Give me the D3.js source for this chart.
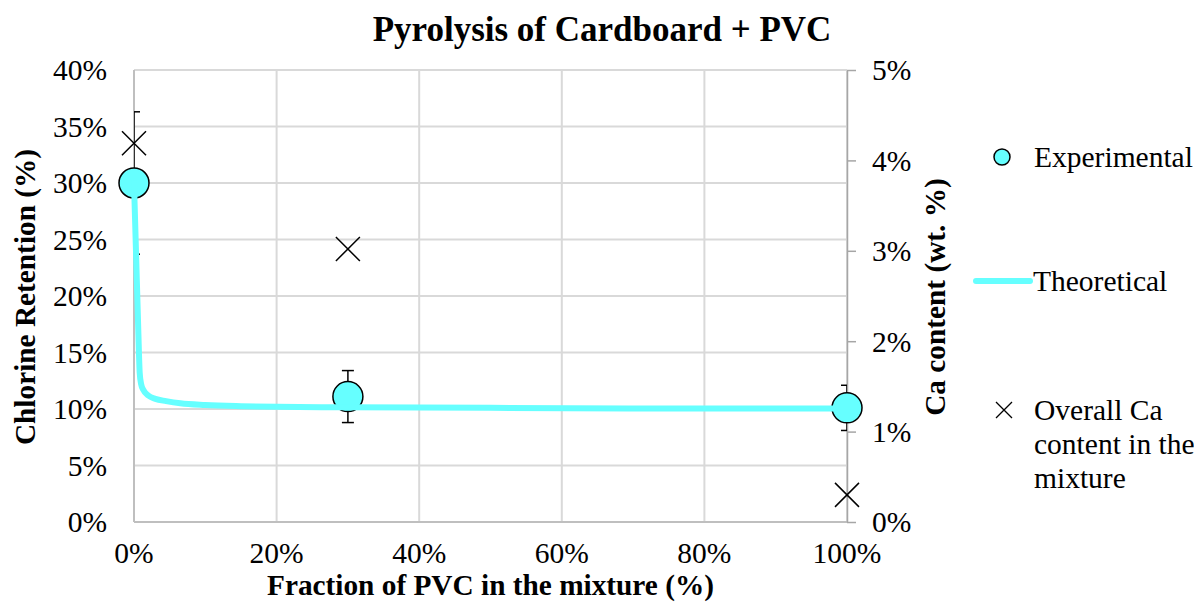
<!DOCTYPE html>
<html>
<head>
<meta charset="utf-8">
<script src="https://cdn.jsdelivr.net/npm/d3@7"></script>
<style>
  body { margin: 0; background: #fff; }
  text { font-family: "Liberation Serif", "Times New Roman", serif; fill: #000; }
</style>
</head>
<body>
<div id="chart"></div>
<script>
// chart values (percent)
var expX = [0, 30, 100];
var expY = [30, 11.1, 10.1];
var expErr = [6.3, 2.3, 2.0];

var theoX = [0, 0.3, 0.6, 0.8, 1.0, 1.3, 2, 3, 4.5, 6.5, 10, 15, 20, 30, 50, 75, 98];
var theoY = [30, 23.5, 17, 13.2, 12.2, 11.7, 11.2, 10.9, 10.7, 10.5, 10.35, 10.25, 10.2, 10.15, 10.1, 10.05, 10.05];

var caX = [0, 30, 100];
var caY = [4.19, 3.02, 0.3];

var xTicks = [0, 20, 40, 60, 80, 100];
var yLeftTicks = [0, 5, 10, 15, 20, 25, 30, 35, 40];
var yRightTicks = [0, 1, 2, 3, 4, 5];

var W = 1194, H = 602;
var padL = 134, padT = 70, plotW = 713, plotH = 452;
var tickFont = 29.5;

var cyan = '#66ffff',
  gridColor = '#d9d9d9',
  axisColor = '#bfbfbf';

var svg = d3.select('#chart').append('svg')
  .attr('width', W)
  .attr('height', H);

var g = svg.append('g').attr('transform', 'translate(' + padL + ',' + padT + ')');

var x = d3.scaleLinear().domain([0, 100]).range([0, plotW]);
var yL = d3.scaleLinear().domain([0, 40]).range([plotH, 0]);
var yR = d3.scaleLinear().domain([0, 5]).range([plotH, 0]);

svg.append('defs').append('clipPath').attr('id', 'plotclip')
  .append('rect').attr('x', 0).attr('y', -20).attr('width', plotW).attr('height', plotH + 40);

/* grid */
g.selectAll('.hgrid').data(yLeftTicks).enter().append('line')
  .attr('x1', 0).attr('x2', plotW)
  .attr('y1', function(d) { return yL(d); })
  .attr('y2', function(d) { return yL(d); })
  .style('stroke', gridColor).style('stroke-width', 2);

g.selectAll('.vgrid').data(xTicks).enter().append('line')
  .attr('x1', function(d) { return x(d); })
  .attr('x2', function(d) { return x(d); })
  .attr('y1', 0).attr('y2', plotH)
  .style('stroke', gridColor).style('stroke-width', 2);

/* axes lines */
g.append('line').attr('x1', 0).attr('x2', 0).attr('y1', 0).attr('y2', plotH)
  .style('stroke', axisColor).style('stroke-width', 2);
g.append('line').attr('x1', 0).attr('x2', plotW).attr('y1', plotH).attr('y2', plotH)
  .style('stroke', axisColor).style('stroke-width', 2);

// right axis with outward ticks
var rightAxis = d3.axisRight(yR).tickValues(yRightTicks).tickSize(9).tickSizeOuter(0).tickFormat('');
var ra = g.append('g').attr('transform', 'translate(' + plotW + ',0)').call(rightAxis);
ra.select('.domain').style('stroke', '#a6a6a6').style('stroke-width', 1.5);
ra.selectAll('.tick line').style('stroke', '#a6a6a6').style('stroke-width', 1.5);

/* tick labels */
g.selectAll('.ylab').data(yLeftTicks).enter().append('text')
  .attr('x', -27)
  .attr('y', function(d) { return yL(d); })
  .attr('dy', '0.35em')
  .attr('text-anchor', 'end')
  .attr('font-size', tickFont)
  .text(function(d) { return d + '%'; });

g.selectAll('.yrlab').data(yRightTicks).enter().append('text')
  .attr('x', plotW + 25)
  .attr('y', function(d) { return yR(d); })
  .attr('dy', '0.35em')
  .attr('text-anchor', 'start')
  .attr('font-size', tickFont)
  .text(function(d) { return d + '%'; });

g.selectAll('.xlab').data(xTicks).enter().append('text')
  .attr('x', function(d) { return x(d); })
  .attr('y', plotH + 41)
  .attr('text-anchor', 'middle')
  .attr('font-size', tickFont)
  .text(function(d) { return d + '%'; });

/* error bars (clipped to plot area) */
var eb = g.append('g').attr('clip-path', 'url(#plotclip)');
expX.forEach(function(d, i) {
  var cx = x(d), hi = yL(expY[i] + expErr[i]), lo = yL(expY[i] - expErr[i]);
  eb.append('line').attr('x1', cx).attr('x2', cx).attr('y1', hi).attr('y2', lo)
    .style('stroke', '#000').style('stroke-width', 1.5);
  [hi, lo].forEach(function(yy) {
    eb.append('line').attr('x1', cx - 6).attr('x2', cx + 6).attr('y1', yy).attr('y2', yy)
      .style('stroke', '#000').style('stroke-width', 1.5);
  });
});

/* Ca content crosses */
var cs = 12;
caX.forEach(function(d, i) {
  var cx = x(d), cy = yR(caY[i]);
  g.append('path')
    .attr('d', 'M' + (cx - cs) + ',' + (cy - cs) + 'L' + (cx + cs) + ',' + (cy + cs) +
      'M' + (cx - cs) + ',' + (cy + cs) + 'L' + (cx + cs) + ',' + (cy - cs))
    .style('stroke', '#000').style('stroke-width', 1.5).style('fill', 'none');
});

/* experimental points */
g.selectAll('.exp').data(expX).enter().append('circle')
  .attr('cx', function(d) { return x(d); })
  .attr('cy', function(d, i) { return yL(expY[i]); })
  .attr('r', 15)
  .style('fill', cyan)
  .style('stroke', '#000').style('stroke-width', 1.5);

/* theoretical line */
var line = d3.line()
  .x(function(d) { return x(d[0]); })
  .y(function(d) { return yL(d[1]); })
  .curve(d3.curveMonotoneX);
g.append('path')
  .datum(theoX.map(function(d, i) { return [d, theoY[i]]; }))
  .attr('d', line)
  .style('fill', 'none')
  .style('stroke', cyan)
  .style('stroke-width', 6)
  .style('stroke-linecap', 'round')
  .style('stroke-linejoin', 'round');

/* titles */
svg.append('text')
  .attr('x', 602).attr('y', 41)
  .attr('text-anchor', 'middle')
  .attr('font-size', 35).attr('font-weight', 'bold')
  .text('Pyrolysis of Cardboard + PVC');

svg.append('text')
  .attr('x', padL + plotW / 2).attr('y', 595)
  .attr('text-anchor', 'middle')
  .attr('font-size', 29.3).attr('font-weight', 'bold')
  .text('Fraction of PVC in the mixture (%)');

svg.append('text')
  .attr('transform', 'translate(35,297) rotate(-90)')
  .attr('text-anchor', 'middle')
  .attr('font-size', 29.3).attr('font-weight', 'bold')
  .text('Chlorine Retention (%)');

svg.append('text')
  .attr('transform', 'translate(945,297) rotate(-90)')
  .attr('text-anchor', 'middle')
  .attr('font-size', 29.3).attr('font-weight', 'bold')
  .text('Ca content (wt. %)');

/* legend */
var lg = svg.append('g');
lg.append('circle').attr('cx', 1002).attr('cy', 157).attr('r', 8)
  .style('fill', cyan).style('stroke', '#000').style('stroke-width', 1.5);
lg.append('text').attr('x', 1034).attr('y', 157).attr('dy', '0.35em')
  .attr('font-size', tickFont).text('Experimental');

lg.append('line').attr('x1', 976).attr('x2', 1030).attr('y1', 281).attr('y2', 281)
  .style('stroke', cyan).style('stroke-width', 6).style('stroke-linecap', 'round');
lg.append('text').attr('x', 1033).attr('y', 281).attr('dy', '0.35em')
  .attr('font-size', tickFont).text('Theoretical');

var lx = 1004, ly = 410, ls = 8;
lg.append('path')
  .attr('d', 'M' + (lx - ls) + ',' + (ly - ls) + 'L' + (lx + ls) + ',' + (ly + ls) +
    'M' + (lx - ls) + ',' + (ly + ls) + 'L' + (lx + ls) + ',' + (ly - ls))
  .style('stroke', '#000').style('stroke-width', 1.3);
['Overall Ca', 'content in the', 'mixture'].forEach(function(t, i) {
  lg.append('text').attr('x', 1034).attr('y', 410 + i * 34).attr('dy', '0.35em')
    .attr('font-size', tickFont).text(t);
});
</script>
</body>
</html>
